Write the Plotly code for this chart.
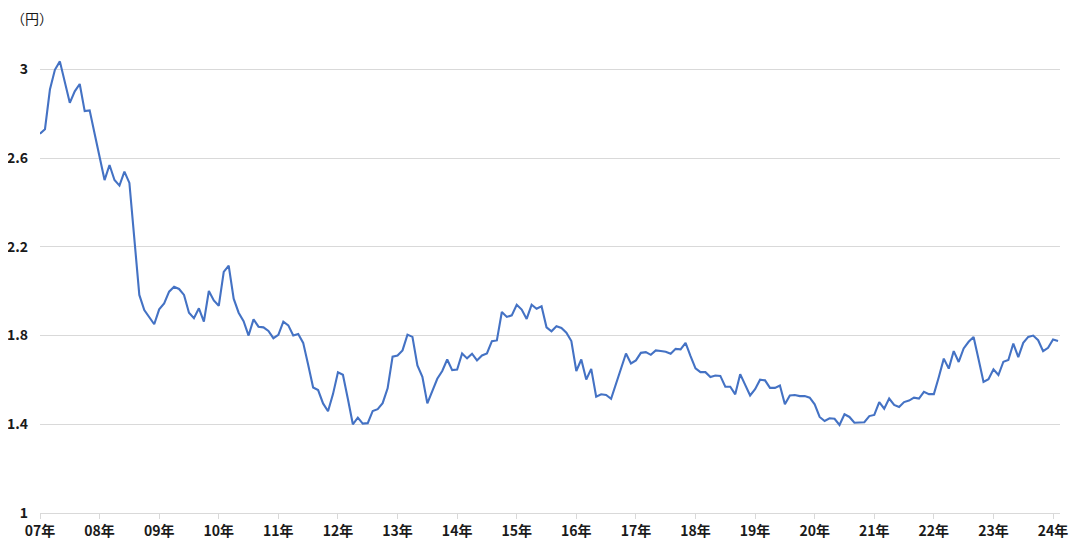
import plotly.graph_objects as go

# Monthly values, Jan 2007 - Feb 2024 (yen)
values = [
    2.71, 2.73, 2.909, 2.998, 3.036, 2.939, 2.849, 2.901, 2.934, 2.812, 2.815, 2.71,
    2.605, 2.501, 2.569, 2.501, 2.476, 2.539, 2.488, 2.25, 1.983, 1.915, 1.885, 1.851,
    1.918, 1.945, 1.998, 2.02, 2.01, 1.983, 1.903, 1.878, 1.923, 1.863, 2.001, 1.958,
    1.934, 2.087, 2.115, 1.966, 1.903, 1.865, 1.80, 1.873, 1.84, 1.837, 1.821, 1.788,
    1.803, 1.863, 1.846, 1.80, 1.807, 1.767, 1.668, 1.566, 1.554, 1.494, 1.459, 1.536,
    1.634, 1.623, 1.514, 1.40, 1.43, 1.403, 1.405, 1.46, 1.468, 1.495, 1.562, 1.705,
    1.71, 1.733, 1.804, 1.794, 1.665, 1.614, 1.494, 1.55, 1.605, 1.64, 1.692, 1.644,
    1.647, 1.719, 1.697, 1.718, 1.688, 1.71, 1.719, 1.775, 1.778, 1.906, 1.884, 1.891,
    1.939, 1.917, 1.875, 1.939, 1.921, 1.932, 1.837, 1.819, 1.842, 1.834, 1.813, 1.775,
    1.64, 1.692, 1.602, 1.65, 1.524, 1.535, 1.532, 1.515, 1.583, 1.651, 1.719, 1.674,
    1.688, 1.722, 1.725, 1.713, 1.733, 1.73, 1.727, 1.718, 1.74, 1.738, 1.767, 1.707,
    1.652, 1.635, 1.635, 1.613, 1.62, 1.618, 1.569, 1.569, 1.535, 1.626, 1.577, 1.53,
    1.558, 1.601, 1.598, 1.564, 1.564, 1.575, 1.49, 1.53, 1.532, 1.527, 1.527, 1.52,
    1.49, 1.433, 1.415, 1.427, 1.425, 1.397, 1.445, 1.433, 1.407, 1.407, 1.409, 1.437,
    1.442, 1.50, 1.47, 1.516, 1.487, 1.478, 1.50, 1.507, 1.52, 1.516, 1.546, 1.536,
    1.536, 1.613, 1.696, 1.651, 1.73, 1.681, 1.742, 1.772, 1.793, 1.693, 1.591, 1.603,
    1.648, 1.622, 1.682, 1.69, 1.764, 1.703, 1.767, 1.794, 1.80, 1.779, 1.73, 1.745,
    1.782, 1.775,
]
months = list(range(len(values)))

year_labels = ["07年", "08年", "09年", "10年", "11年", "12年", "13年", "14年", "15年",
               "16年", "17年", "18年", "19年", "20年", "21年", "22年", "23年", "24年"]
year_positions = [12 * i for i in range(len(year_labels))]

y_ticks = [1, 1.4, 1.8, 2.2, 2.6, 3]
y_tick_text = ["1", "1.4", "1.8", "2.2", "2.6", "3"]
unit_label = "（円）"

FONT = "Noto Sans CJK JP"
GRID = "#d9d9d9"
TEXT = "#1a1a1a"

fig = go.Figure()
fig.add_trace(go.Scatter(
    x=months, y=values, mode="lines",
    line=dict(color="#4472C4", width=2.1),
    hoverinfo="skip", showlegend=False,
))

# the page body adds an 8px offset, so the figure is 8px smaller and shifted
fig.update_layout(
    width=1070, height=538,
    margin=dict(l=32, r=18, t=17, b=33, autoexpand=False),
    paper_bgcolor="white", plot_bgcolor="white",
    font=dict(family=FONT, size=14, color=TEXT),
    showlegend=False,
    xaxis=dict(
        range=[0, 205.4], automargin=False,
        tickmode="array", tickvals=year_positions, ticktext=year_labels,
        showgrid=False, zeroline=False,
        showline=True, linecolor=GRID, linewidth=1,
        ticks="outside", ticklen=5, tickcolor=GRID, tickwidth=1,
        tickfont=dict(family=FONT, size=14, color=TEXT, weight=600),
    ),
    yaxis=dict(
        range=[1, 3.2], automargin=False,
        tickmode="array", tickvals=y_ticks, ticktext=y_tick_text,
        showgrid=True, gridcolor=GRID, gridwidth=1,
        zeroline=False, showline=False, ticks="",
        ticklabelstandoff=11,
        tickfont=dict(family=FONT, size=14, color=TEXT, weight=600),
    ),
    annotations=[dict(
        text=unit_label, xref="paper", yref="paper",
        x=-31 / 1020, y=(513 - 18) / 488,
        xanchor="left", yanchor="middle", showarrow=False,
        font=dict(family=FONT, size=14, color=TEXT),
    )],
)

fig.write_html("out.html")
